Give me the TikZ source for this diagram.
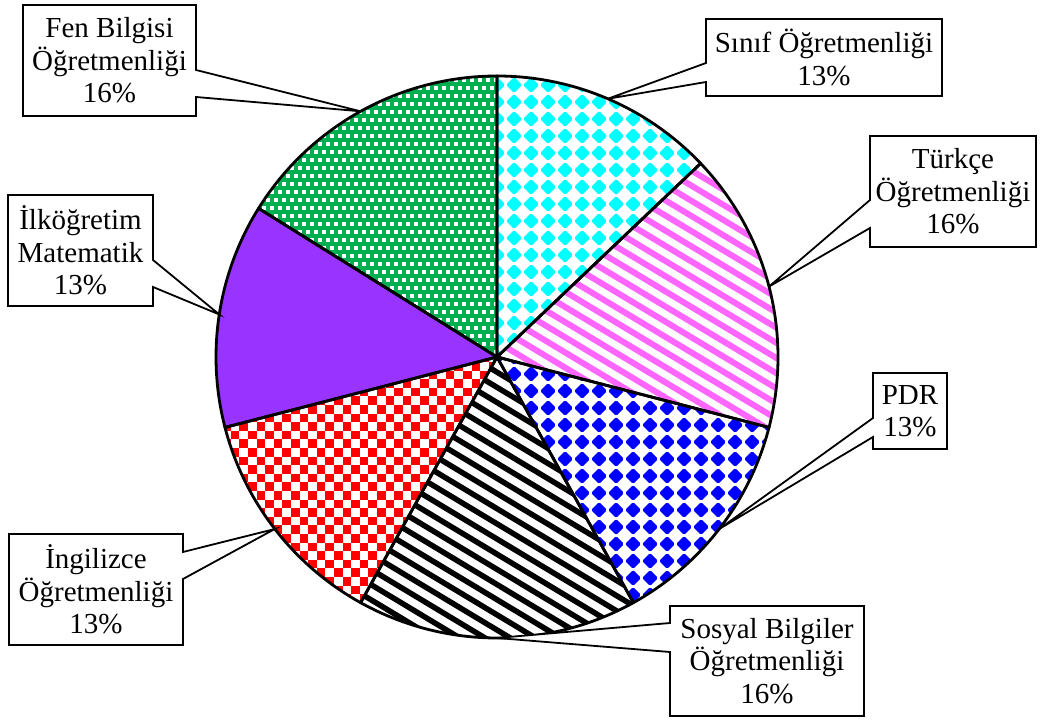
\documentclass[tikz,border=0pt]{standalone}
\usepackage{fontspec}
\setmainfont{Liberation Serif}
\usetikzlibrary{calc}
\definecolor{cyanA}{RGB}{0,255,255}
\definecolor{pinkA}{RGB}{255,102,255}
\definecolor{blueA}{RGB}{0,0,255}
\definecolor{redA}{RGB}{255,0,0}
\definecolor{purpleA}{RGB}{153,51,255}
\definecolor{greenA}{RGB}{0,176,80}
\begin{document}
\begin{tikzpicture}[x=1pt,y=1pt,
  lab/.style={font=\fontsize{29}{32.5}\selectfont, align=center, inner sep=0pt},
  callout/.style={fill=white, draw=black, line width=1.8pt, line join=miter},
  sliceline/.style={draw=black, line width=2.8pt, line join=round},
  diam/.style={rounded corners=1.5pt}]
\useasboundingbox (0,0) rectangle (1040,720);
\coordinate (C) at (497,363);
\def\R{281}

% Slice 1: Sinif (cyan diamonds)
\begin{scope}
\clip (C) -- ++(90:\R) arc[start angle=90, end angle=43.548, radius=\R] -- cycle;
\foreach \i in {0,...,17} \foreach \j in {0,...,17}
  \fill[cyanA, diam] (497+\i*17, 363+\j*17) ++(0,8) -- ++(8,-8) -- ++(-8,-8) -- ++(-8,8) -- cycle;
\end{scope}
% Slice 2: Turkce (pink stripes)
\begin{scope}
\clip (C) -- ++(43.548:\R) arc[start angle=43.548, end angle=-14.516, radius=\R] -- cycle;
\begin{scope}[shift={(C)}, rotate=-31]
\foreach \k in {-30,...,30} \draw[pinkA, line width=6pt] (-420,\k*13) -- (420,\k*13);
\end{scope}
\end{scope}
% Slice 3: PDR (blue diamonds)
\begin{scope}
\clip (C) -- ++(-14.516:\R) arc[start angle=-14.516, end angle=-60.968, radius=\R] -- cycle;
\foreach \i in {0,...,17} \foreach \j in {0,...,17}
  \fill[blueA, diam] (497+\i*17, 363-\j*17) ++(0,8) -- ++(8,-8) -- ++(-8,-8) -- ++(-8,8) -- cycle;
\end{scope}
% Slice 4: Sosyal (black stripes)
\begin{scope}
\clip (C) -- ++(-60.968:\R) arc[start angle=-60.968, end angle=-119.032, radius=\R] -- cycle;
\begin{scope}[shift={(C)}, rotate=-31]
\foreach \k in {-30,...,30} \draw[black, line width=5.5pt] (-420,\k*13) -- (420,\k*13);
\end{scope}
\end{scope}
% Slice 5: Ingilizce (red checkerboard)
\begin{scope}
\clip (C) -- ++(-119.032:\R) arc[start angle=-119.032, end angle=-165.484, radius=\R] -- cycle;
\foreach \i in {0,...,17} \foreach \j in {0,...,16} {
  \fill[redA] (205+\i*17.2, 100+\j*17.2) rectangle ++(8.6,8.6);
  \fill[redA] (213.6+\i*17.2, 108.6+\j*17.2) rectangle ++(8.6,8.6);
}
\end{scope}
% Slice 6: Matematik (purple)
\fill[purpleA] (C) -- ++(-165.484:\R) arc[start angle=-165.484, end angle=-211.935, radius=\R] -- cycle;
% Slice 7: Fen (green)
\begin{scope}
\clip (C) -- ++(148.065:\R) arc[start angle=148.065, end angle=90, radius=\R] -- cycle;
\fill[greenA] (240,350) rectangle (510,660);
\foreach \i in {0,...,33} \foreach \j in {0,...,19} {
  \fill[white] (250+\i*8, 358+\j*16) rectangle ++(3.5,3.5);
  \fill[white] (254+\i*8, 366+\j*16) rectangle ++(3.5,3.5);
}
\end{scope}

% Outlines
\foreach \a/\b in {90/43.548, 43.548/-14.516, -14.516/-60.968, -60.968/-119.032, -119.032/-165.484, -165.484/-211.935, -211.935/-270}
  \draw[sliceline] (C) -- ++(\a:\R) arc[start angle=\a, end angle=\b, radius=\R] -- cycle;

% Tips
\coordinate (t1) at ($(C)+(66.774:\R)$);
\coordinate (t2) at ($(C)+(14.516:\R)$);
\coordinate (t3) at ($(C)+(-37.742:\R)$);
\coordinate (t4) at ($(C)+(-90:\R)$);
\coordinate (t5) at ($(C)+(-142.258:\R)$);
\coordinate (t6) at ($(C)+(171.29:\R)$);
\coordinate (t7) at ($(C)+(119.032:\R)$);

% Callouts
\draw[callout] (706,701) -- (942,701) -- (942,624) -- (706,624) -- (706,638) -- (t1) -- (706,657) -- cycle;
\node[lab] (sinif) at (824,662.5) {Sınıf Öğretmenliği\\13\%};

\draw[callout] (870,584) -- (1036,584) -- (1036,473) -- (870,473) -- (870,492) -- (t2) -- (870,520) -- cycle;
\node[lab] (turkce) at (953,528.5) {Türkçe\\Öğretmenliği\\16\%};

\draw[callout] (873,347) -- (947,347) -- (947,271) -- (873,271) -- (873,283) -- (t3) -- (873,302) -- cycle;
\node[lab] (pdr) at (910,309) {PDR\\13\%};

\draw[callout] (670,114) -- (864,114) -- (864,4) -- (670,4) -- (670,68) -- (t4) -- (670,97) -- cycle;
\node[lab] (sosyal) at (767,59) {Sosyal Bilgiler\\Öğretmenliği\\16\%};

\draw[callout] (9,186) -- (183,186) -- (183,168) -- (t5) -- (183,141) -- (183,75) -- (9,75) -- cycle;
\node[lab] (ingilizce) at (96,130.5) {İngilizce\\Öğretmenliği\\13\%};

\draw[callout] (8,525) -- (153,525) -- (153,460) -- (t6) -- (153,433) -- (153,414) -- (8,414) -- cycle;
\node[lab] (matematik) at (80.5,469.5) {İlköğretim\\Matematik\\13\%};

\draw[callout] (23,715) -- (196,715) -- (196,650) -- (t7) -- (196,623) -- (196,604) -- (23,604) -- cycle;
\node[lab] (fen) at (109.5,659.5) {Fen Bilgisi\\Öğretmenliği\\16\%};
\end{tikzpicture}
\end{document}
